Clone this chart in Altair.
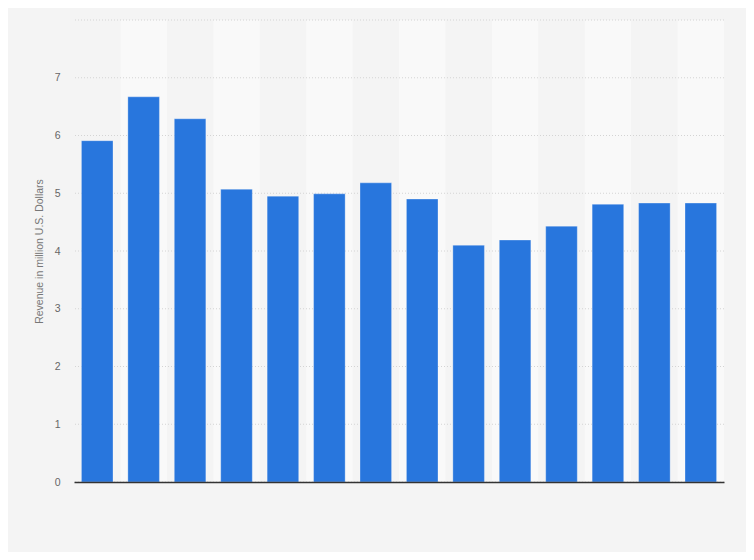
import altair as alt
import pandas as pd

years = ["2006", "2007", "2008", "2009", "2010", "2011", "2012",
         "2013", "2014", "2015", "2016", "2017", "2018", "2019"]
revenue = [5.91, 6.67, 6.29, 5.07, 4.95, 4.99, 5.18, 4.90, 4.10, 4.19, 4.43, 4.81, 4.83, 4.83]
tick_values = [0, 1, 2, 3, 4, 5, 6, 7, 8]

df = pd.DataFrame({"year": years, "revenue": revenue})
df["shade"] = [i % 2 == 1 for i in range(len(years))]
df["top"] = max(tick_values)
df["bottom"] = 0
ticks_df = pd.DataFrame({"v": tick_values})

FONT = "Liberation Sans"
PAD_INNER = 0.32
yscale = alt.Scale(domain=[0, 8], nice=False)
xscale = alt.Scale(domain=years, paddingInner=PAD_INNER, paddingOuter=PAD_INNER / 2)

bands = alt.Chart(df[df["shade"]]).mark_bar(
    color="#f9f9f9", width=alt.RelativeBandSize(1 / (1 - PAD_INNER))
).encode(
    x=alt.X("year:N", sort=years, scale=xscale),
    y=alt.Y("top:Q", scale=yscale),
    y2="bottom:Q",
)

grid = alt.Chart(ticks_df).mark_rule(color="#d4d4d4", strokeDash=[1, 2], strokeWidth=1).encode(
    y=alt.Y("v:Q", scale=yscale)
)

bars = alt.Chart(df).mark_bar(color="#2876dd", stroke="#ffffff", strokeOpacity=0.3, strokeWidth=1).encode(
    x=alt.X("year:N", sort=years, scale=xscale,
            axis=alt.Axis(labels=False, ticks=False, title=None, domain=True,
                          domainColor="#333333", domainWidth=1.5, zindex=1)),
    y=alt.Y("revenue:Q", scale=yscale,
            axis=alt.Axis(values=tick_values, format="d", grid=False, domain=False, ticks=False,
                          labelExpr="datum.value == 8 ? '' : datum.label",
                          labelColor="#666666", labelFontSize=10.5, labelFont=FONT,
                          labelPadding=14,
                          title="Revenue in million U.S. Dollars",
                          titleColor="#777777", titleFontSize=10.5, titleFont=FONT,
                          titleFontWeight="normal", titlePadding=10)),
)

chart = alt.layer(bands, grid, bars).properties(
    width=650, height=462,
    autosize=alt.AutoSizeParams(type="none"),
    padding={"left": 66, "top": 12, "right": 22, "bottom": 70},
    background="#f4f4f4",
).configure_view(stroke=None)

chart.save("out.html", embed_options={"renderer": "svg", "actions": False})
